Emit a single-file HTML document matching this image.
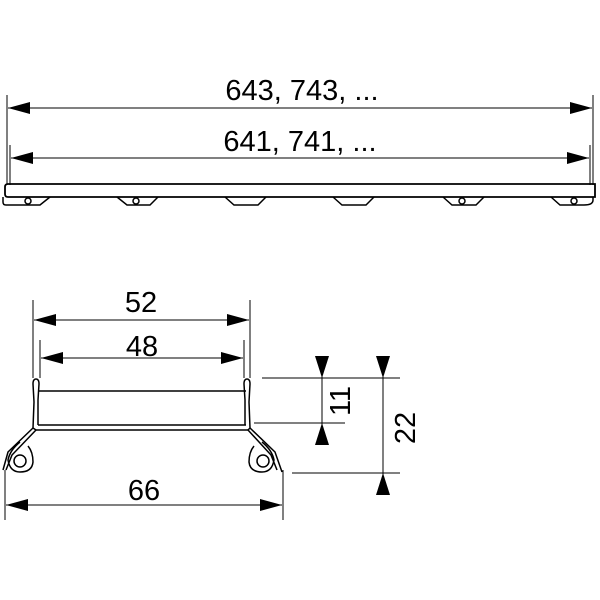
<!DOCTYPE html>
<html><head><style>body{margin:0;background:#fff}svg{display:block}</style></head><body>
<svg width="600" height="600" viewBox="0 0 600 600" xmlns="http://www.w3.org/2000/svg" font-family="Liberation Sans, sans-serif" fill="none" stroke="#000">
<defs>
<marker id="a" viewBox="0 0 22 12" refX="22" refY="6" markerWidth="22" markerHeight="12" markerUnits="userSpaceOnUse" orient="auto-start-reverse" preserveAspectRatio="none"><path d="M0,0L22,6L0,12z" fill="#000" stroke="none"/></marker>
<marker id="b" viewBox="0 0 22 14" refX="22" refY="7" markerWidth="22" markerHeight="14" markerUnits="userSpaceOnUse" orient="auto-start-reverse" preserveAspectRatio="none"><path d="M0,0L22,7L0,14z" fill="#000" stroke="none"/></marker>
</defs>
<g stroke-width="1">
<line x1="7" y1="95" x2="7" y2="185"/><line x1="10" y1="145" x2="10" y2="185"/>
<line x1="593" y1="95" x2="593" y2="185"/><line x1="590" y1="145" x2="590" y2="185"/>
<line x1="8" y1="108" x2="592" y2="108" marker-start="url(#a)" marker-end="url(#a)"/>
<line x1="11" y1="158" x2="589" y2="158" marker-start="url(#a)" marker-end="url(#a)"/>
</g>
<g fill="#000" stroke="none" font-size="29">
<text x="302" y="100" text-anchor="middle">643, 743, ...</text>
<text x="300" y="151" text-anchor="middle">641, 741, ...</text>
<text x="141" y="312" text-anchor="middle">52</text>
<text x="142" y="356" text-anchor="middle">48</text>
<text x="144" y="500" text-anchor="middle">66</text>
<text transform="translate(350,401) rotate(-90)" text-anchor="middle">11</text>
<text transform="translate(415,428) rotate(-90)" text-anchor="middle">22</text>
</g>
<g stroke-width="1.5">
<path d="M8,184 H595 V197 H8 Q5,197 5,194 V187 Q5,184 8,184 Z" stroke-width="1.8"/>
<path d="M3,197 V202 Q3,205 6,205 H40 L50,197"/>
<path d="M117,197 L127,205 H150 L158,197"/>
<path d="M225,197 L234,205 H258 L266,197"/>
<path d="M333,197 L342,205 H366 L374,197"/>
<path d="M443,197 L452,205 H476 L484,197"/>
<path d="M551,197 L560,205 H584 Q593,205 593,200 V197"/>
<circle cx="28" cy="201" r="3"/><circle cx="136" cy="201" r="3"/><circle cx="462" cy="201" r="3"/><circle cx="574" cy="201" r="3"/>
</g>
<g stroke-width="1">
<line x1="33" y1="300" x2="33" y2="378"/><line x1="250" y1="300" x2="250" y2="378"/>
<line x1="34" y1="320" x2="249" y2="320" marker-start="url(#a)" marker-end="url(#a)"/>
<line x1="40" y1="340" x2="40" y2="378"/><line x1="244" y1="340" x2="244" y2="378"/>
<line x1="41" y1="358" x2="243" y2="358" marker-start="url(#a)" marker-end="url(#a)"/>
<line x1="5" y1="470" x2="5" y2="520"/><line x1="283" y1="470" x2="283" y2="520"/>
<line x1="6" y1="505" x2="282" y2="505" marker-start="url(#a)" marker-end="url(#a)"/>
<line x1="262" y1="378" x2="400" y2="378"/><line x1="254" y1="423" x2="345" y2="423"/><line x1="292" y1="473" x2="400" y2="473"/>
<line x1="322" y1="356" x2="322" y2="378" marker-end="url(#b)"/>
<line x1="322" y1="378" x2="322" y2="423"/>
<line x1="322" y1="445" x2="322" y2="423" marker-end="url(#b)"/>
<line x1="383" y1="356" x2="383" y2="378" marker-end="url(#b)"/>
<line x1="383" y1="378" x2="383" y2="473"/>
<line x1="383" y1="495" x2="383" y2="473" marker-end="url(#b)"/>
</g>
<g stroke-width="1.5">
<path d="M34,402 L33,384 Q33,379 36,379 Q39,379 39,384 L38,400"/>
<path d="M249,402 L250,384 Q250,379 247,379 Q244,379 244,384 L245,400"/>
<path d="M39,391 H246"/>
<path d="M38,425 H246"/><path d="M36,430 H248"/>
<path d="M34,402 L33,428 L36,430"/><path d="M38,400 L38,425"/>
<path d="M249,402 L250,428 L248,430"/><path d="M245,400 L245,425"/>
<path d="M33,428 L8,452 L3,470"/><path d="M36,430 L12,455 L6,470"/>
<path d="M20,442 Q10,450 8,460 Q10,472 20,472 Q32,472 33,462 Q33,452 28,446"/>
<circle cx="20" cy="461" r="6"/>
<path d="M250,428 L275,452 L282,472"/><path d="M248,430 L271,455 L277,470"/>
<path d="M262,442 Q272,450 274,460 Q272,472 262,472 Q250,472 249,462 Q249,452 254,446"/>
<circle cx="263" cy="461" r="6"/>
</g>
</svg>
</body></html>
